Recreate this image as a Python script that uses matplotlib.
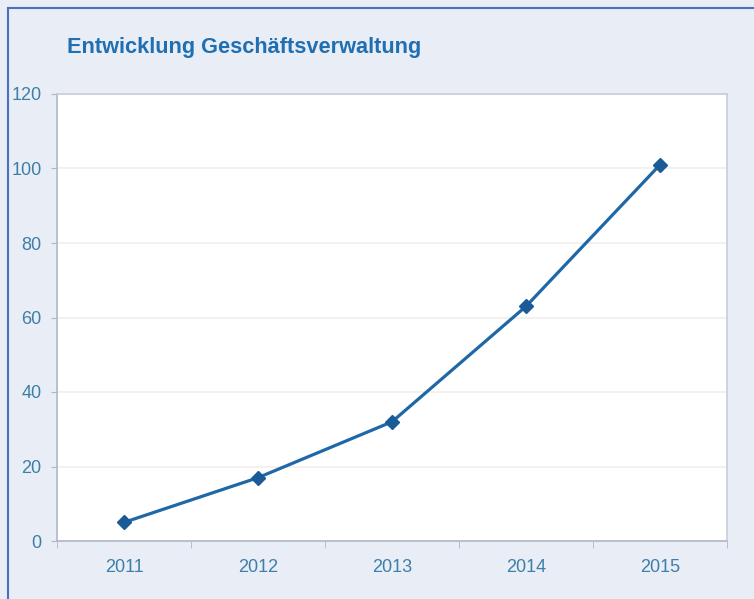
import matplotlib.pyplot as plt

years = ['2011', '2012', '2013', '2014', '2015']
values = [5, 17, 32, 63, 101]
yticks = [0, 20, 40, 60, 80, 100, 120]

bg = '#e9edf5'
line_col = '#1f68a8'
txt_col = '#3d7fa8'

fig = plt.figure(figsize=(7.54, 5.99), dpi=100, facecolor=bg)
plt.rcParams['font.family'] = ['Liberation Sans', 'DejaVu Sans']

# blue frame (top and left edge)
fig.add_artist(plt.Line2D([8/754, 8/754], [0, 1 - 8/599], transform=fig.transFigure,
                          color='#4a70c4', lw=1.5))
fig.add_artist(plt.Line2D([8/754, 1], [1 - 8/599, 1 - 8/599], transform=fig.transFigure,
                          color='#4a70c4', lw=1.5))

ax = fig.add_axes([57/754, 1 - 541/599, (727 - 57)/754, (541 - 94)/599])
ax.set_facecolor('white')

x = list(range(len(years)))
ax.plot(x, values, color=line_col, lw=2.3, marker='D', markersize=7.5,
        markerfacecolor='#1a5a96', markeredgecolor='#1a5a96', zorder=3)

ax.set_xlim(-0.5, len(years) - 0.5)
ax.set_ylim(0, 120)
ax.set_yticks(yticks)
ax.set_yticklabels([str(v) for v in yticks])
ax.set_xticks(x)
ax.set_xticklabels(years)
ax.set_xticks([i - 0.5 for i in range(len(years) + 1)], minor=True)

ax.grid(axis='y', color='#f1eeea', lw=1.2)
ax.set_axisbelow(True)

for s in ax.spines.values():
    s.set_color('#c8cdd8')
    s.set_linewidth(1.2)
ax.spines['left'].set_color('#b0b8c6')
ax.spines['bottom'].set_color('#b0b8c6')

ax.tick_params(axis='x', which='major', length=0, pad=13, labelsize=13, labelcolor=txt_col)
ax.tick_params(axis='x', which='minor', length=5, color='#b0b8c6')
ax.tick_params(axis='y', length=4, color='#b0b8c6', pad=7, labelsize=13, labelcolor=txt_col)

fig.text(67/754, 1 - 47/599, 'Entwicklung Geschäftsverwaltung', fontsize=15.7,
         fontweight='bold', color='#1f6fb2', va='center', ha='left')

fig.savefig('out.png', dpi=100, facecolor=bg)
